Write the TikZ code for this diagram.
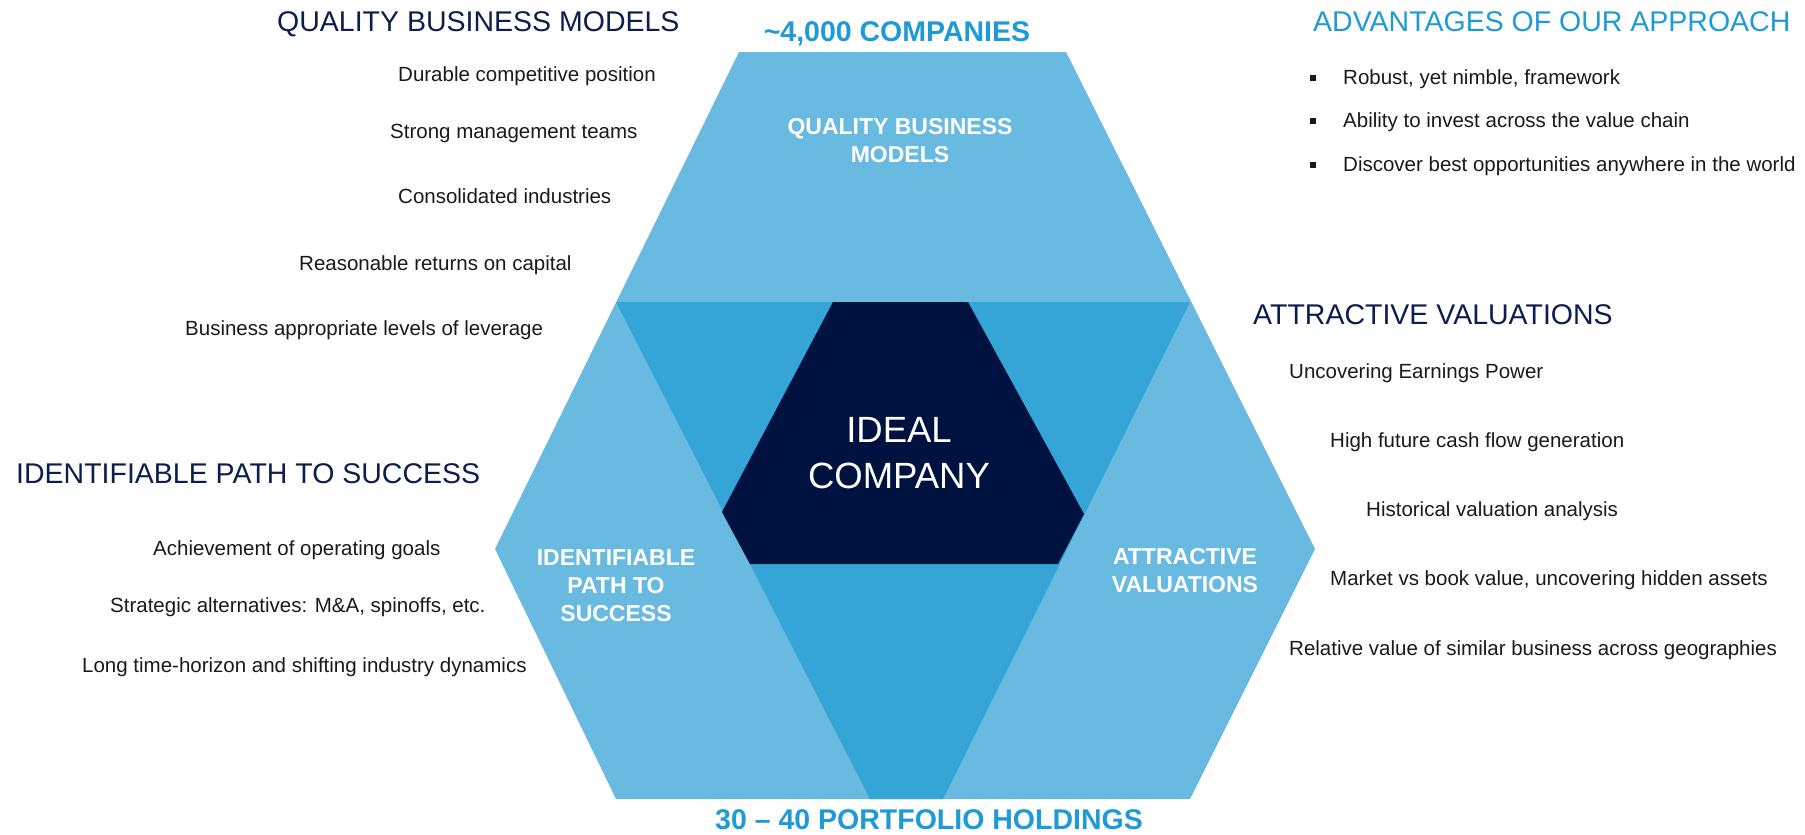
\documentclass[tikz,border=0pt]{standalone}
\usepackage{fontspec}
\setmainfont{Liberation Sans}
\definecolor{lightblue}{HTML}{69BAE0}
\definecolor{midblue}{HTML}{35A4D7}
\definecolor{navyfill}{HTML}{00123F}
\definecolor{hdrnavy}{HTML}{0B1E4D}
\definecolor{accent}{HTML}{1E9BD7}
\definecolor{bodytext}{HTML}{1A1A1A}
\begin{document}
\begin{tikzpicture}[x=1pt,y=-1pt,
  bodytxt/.style={anchor=base west,inner sep=0pt,font=\fontsize{20.5}{24}\selectfont,text=bodytext},
  hdrtxt/.style={anchor=base west,inner sep=0pt,font=\fontsize{28.5}{34}\selectfont,text=hdrnavy},
  accenttxt/.style={inner sep=0pt,font=\fontsize{28.5}{34}\selectfont\bfseries,text=accent},
  lbl/.style={align=center,inner sep=0pt,font=\fontsize{23}{28}\selectfont\bfseries,text=white},
  bulletbox/.style={fill=bodytext,inner sep=0pt,minimum size=5.5pt}]
\useasboundingbox (0,0) rectangle (1805,835);
\fill[white] (0,0) rectangle (1805,835);

% outer hexagon (light)
\fill[lightblue] (739,52) -- (1066,52) -- (1315,549) -- (1190,799) -- (616,799) -- (495,549) -- cycle;
% middle inverted triangle (medium)
\fill[midblue] (616,302) -- (1190,302) -- (943,799) -- (870,799) -- cycle;
% central dark hexagon
\fill[navyfill] (833,302) -- (968,302) -- (1084,514) -- (1058,564) -- (750,564) -- (722,512) -- cycle;

% labels inside
\node[lbl] (lq) at (900,141) {QUALITY BUSINESS\\MODELS};
\node[lbl] (li) at (616,586) {IDENTIFIABLE\\PATH TO\\SUCCESS};
\node[lbl] (la) at (1185,571) {ATTRACTIVE\\VALUATIONS};
\node[align=center,inner sep=0pt,font=\fontsize{36.5}{46}\selectfont,text=white] (ideal) at (899,453) {IDEAL\\COMPANY};

% top and bottom
\node[accenttxt,anchor=base] (top) at (897,41) {\textasciitilde 4,000 COMPANIES};
\node[accenttxt,anchor=base west] (bottom) at (715,829) {30 – 40 PORTFOLIO HOLDINGS};

% Quality business models
\node[hdrtxt] (hq) at (277,31) {QUALITY BUSINESS MODELS};
\node[bodytxt] (q1) at (398,81) {Durable competitive position};
\node[bodytxt] (q2) at (390,138) {Strong management teams};
\node[bodytxt] (q3) at (398,203) {Consolidated industries};
\node[bodytxt] (q4) at (299,270) {Reasonable returns on capital};
\node[bodytxt] (q5) at (185,335) {Business appropriate levels of leverage};

% Identifiable path
\node[hdrtxt] (hi) at (16,483) {IDENTIFIABLE PATH TO SUCCESS};
\node[bodytxt] (i1) at (153,555) {Achievement of operating goals};
\node[bodytxt] (i2) at (110,612) {Strategic alternatives: M\&A, spinoffs, etc.};
\node[bodytxt] (i3) at (82,672) {Long time-horizon and shifting industry dynamics};

% Attractive valuations
\node[hdrtxt] (ha) at (1253,324) {ATTRACTIVE VALUATIONS};
\node[bodytxt] (a1) at (1289,378) {Uncovering Earnings Power};
\node[bodytxt] (a2) at (1330,447) {High future cash flow generation};
\node[bodytxt] (a3) at (1366,516) {Historical valuation analysis};
\node[bodytxt] (a4) at (1330,585) {Market vs book value, uncovering hidden assets};
\node[bodytxt] (a5) at (1289,655) {Relative value of similar business across geographies};

% Advantages
\node[hdrtxt,text=accent] (hadv) at (1313,31) {ADVANTAGES OF OUR APPROACH};
\node[bulletbox] (b1) at (1313,78) {};
\node[bodytxt] (v1) at (1343,84) {Robust, yet nimble, framework};
\node[bulletbox] (b2) at (1313,121) {};
\node[bodytxt] (v2) at (1343,127) {Ability to invest across the value chain};
\node[bulletbox] (b3) at (1313,165) {};
\node[bodytxt] (v3) at (1343,171) {Discover best opportunities anywhere in the world};
\end{tikzpicture}
\end{document}
